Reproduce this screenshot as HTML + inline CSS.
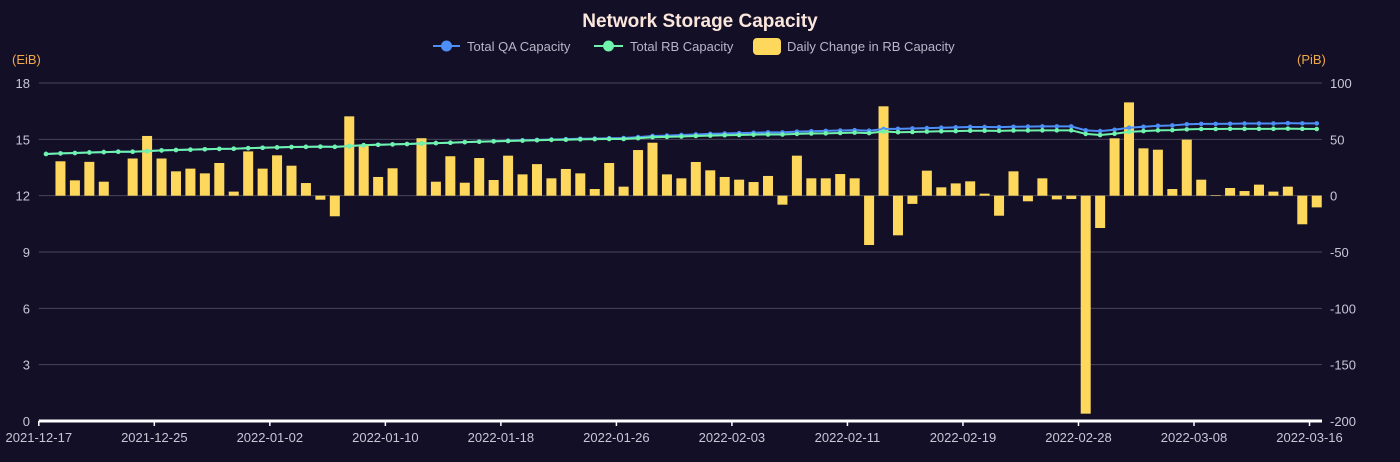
<!DOCTYPE html>
<html><head><meta charset="utf-8"><style>
html,body{margin:0;padding:0;background:#130f27;}
svg{display:block;font-family:"Liberation Sans",sans-serif;}
</style></head><body>
<svg id="chart" width="1400" height="462" viewBox="0 0 1400 462">
<rect x="0" y="0" width="1400" height="462" fill="#130f27"/>
<text x="700" y="27" text-anchor="middle" font-size="19" font-weight="bold" fill="#fbe6dc">Network Storage Capacity</text>
<g>
<g>
<line x1="433" y1="46" x2="460" y2="46" stroke="#4d8ef7" stroke-width="2"/><circle cx="446.5" cy="46" r="5.5" fill="#4d8ef7"/>
<text x="467" y="51" font-size="13" fill="#b9b6c9">Total QA Capacity</text></g>
<g>
<line x1="594" y1="46" x2="623" y2="46" stroke="#6ef2ac" stroke-width="2"/><circle cx="608.5" cy="46" r="5.5" fill="#6ef2ac"/>
<text x="630" y="51" font-size="13" fill="#b9b6c9">Total RB Capacity</text></g>
<g>
<rect x="753" y="38" width="28" height="17" rx="4" fill="#fdd85d"/>
<text x="787" y="51" font-size="13" fill="#b9b6c9">Daily Change in RB Capacity</text></g>
</g>
<text x="12" y="64" font-size="13" fill="#f0a848">(EiB)</text>
<text x="1297" y="64" font-size="13" fill="#f0a848">(PiB)</text>
<g id="grid"></g><g id="bars"></g><g id="lines"></g><g id="axes"></g>
</svg>
<script>
const dates=["2021-12-17","2021-12-25","2022-01-02","2022-01-10","2022-01-18","2022-01-26","2022-02-03","2022-02-11","2022-02-19","2022-02-28","2022-03-08","2022-03-16"];
const leftTicks=[0,3,6,9,12,15,18];
const rightTicks=[-200,-150,-100,-50,0,50,100];
const dailyChange=[0,30.5,13.6,30,12.4,0,33,53,33,21.6,24,19.8,29,3.6,39.3,24,35.8,26.6,11.2,-3.6,-18.3,70.4,45,16.6,24.3,0,51,12.4,35,11.5,33.4,13.9,35.5,18.9,28,15.4,23.7,19.8,5.9,29,8,40.5,47,18.9,15.4,29.9,22.5,16.6,14.2,12.1,17.5,-8,35.5,15.4,15.4,19.2,15.4,-43.8,79.3,-35.2,-7.3,22.2,7.4,10.9,12.7,1.8,-17.8,21.6,-5,15.4,-3.3,-3,-193.5,-28.7,50.9,82.8,42,40.8,5.9,49.7,14.2,0.5,6.8,4.1,9.8,3.6,8,-25.4,-10.4];
const rbCapacity=[14.22,14.25,14.27,14.30,14.32,14.34,14.34,14.37,14.41,14.43,14.45,14.47,14.49,14.50,14.53,14.55,14.57,14.59,14.60,14.61,14.60,14.64,14.69,14.71,14.73,14.75,14.78,14.80,14.82,14.85,14.87,14.89,14.91,14.93,14.95,14.97,14.98,15.00,15.01,15.02,15.02,15.06,15.11,15.13,15.15,15.18,15.20,15.22,15.23,15.25,15.26,15.26,15.29,15.31,15.32,15.34,15.36,15.33,15.42,15.38,15.39,15.41,15.43,15.44,15.46,15.46,15.45,15.47,15.47,15.48,15.48,15.48,15.29,15.23,15.30,15.40,15.44,15.48,15.49,15.53,15.55,15.55,15.56,15.56,15.56,15.56,15.57,15.56,15.55];
const qaCapacity=[14.22,14.25,14.27,14.30,14.32,14.34,14.34,14.37,14.41,14.43,14.45,14.47,14.49,14.50,14.53,14.55,14.57,14.59,14.60,14.61,14.60,14.64,14.69,14.71,14.73,14.75,14.78,14.80,14.82,14.85,14.88,14.90,14.93,14.95,14.97,14.99,15.01,15.03,15.04,15.06,15.07,15.12,15.18,15.20,15.23,15.26,15.29,15.31,15.33,15.35,15.37,15.37,15.41,15.43,15.45,15.47,15.49,15.46,15.55,15.56,15.58,15.60,15.62,15.64,15.66,15.66,15.65,15.67,15.68,15.69,15.69,15.69,15.48,15.44,15.51,15.62,15.67,15.72,15.74,15.80,15.82,15.82,15.83,15.84,15.84,15.84,15.86,15.85,15.85];
const NS="http://www.w3.org/2000/svg";
const X0=38.8,BW=14.44,Y0=421,Y1=83;
const xBand=i=>X0+BW*i;
const xC=i=>X0+BW*(i+0.5);
const yL=v=>Y0-(v/18)*(Y0-Y1);
const yR=v=>Y0-((v+200)/300)*(Y0-Y1);
function mk(tag,attrs,parent){const e=document.createElementNS(NS,tag);for(const k in attrs)e.setAttribute(k,attrs[k]);parent.appendChild(e);return e;}
const grid=document.getElementById('grid'),bars=document.getElementById('bars'),lines=document.getElementById('lines'),axes=document.getElementById('axes');
leftTicks.forEach(v=>{
  if(v>0){const g=mk('line',{x1:X0,x2:1322,y1:yL(v),y2:yL(v),stroke:'#48465a','stroke-width':1},grid);
  
  }
  const t=mk('text',{x:30,y:yL(v)+5,'text-anchor':'end','font-size':13,fill:'#c9c6d6'},axes);t.textContent=v;
  
  
});
rightTicks.forEach(v=>{
  const t=mk('text',{x:1330,y:yR(v)+5,'font-size':13,fill:'#c9c6d6'},axes);t.textContent=v;
  
  
});
dailyChange.forEach((v,i)=>{
  const y=Math.min(yR(v),yR(0)),h=Math.abs(yR(v)-yR(0));
  const b=mk('rect',{x:xC(i)-5,y:y,width:10,height:h,fill:'#fdd85d'},bars);
  
  
});
[[qaCapacity,'#4d8ef7','qa-capacity-line'],[rbCapacity,'#6ef2ac','rb-capacity-line']].forEach(([arr,c,n])=>{
  const p=mk('polyline',{points:arr.map((v,i)=>xC(i)+','+yL(v)).join(' '),fill:'none',stroke:c,'stroke-width':2},lines);
  
  
  arr.forEach((v,i)=>{const d=mk('circle',{cx:xC(i),cy:yL(v),r:2.3,fill:c},lines);
    
    });
});
const ax=mk('line',{x1:X0,x2:1322,y1:Y0,y2:Y0,stroke:'#ffffff','stroke-width':3},axes);


dates.forEach((d,k)=>{
  const x=xBand(k*8);
  mk('line',{x1:x,x2:x,y1:Y0,y2:Y0+5,stroke:'#ffffff','stroke-width':1.5},axes);
  const t=mk('text',{x:x,y:442,'text-anchor':'middle','font-size':13,fill:'#c9c6d6'},axes);t.textContent=d;
  
  
});
</script>
</body></html>
